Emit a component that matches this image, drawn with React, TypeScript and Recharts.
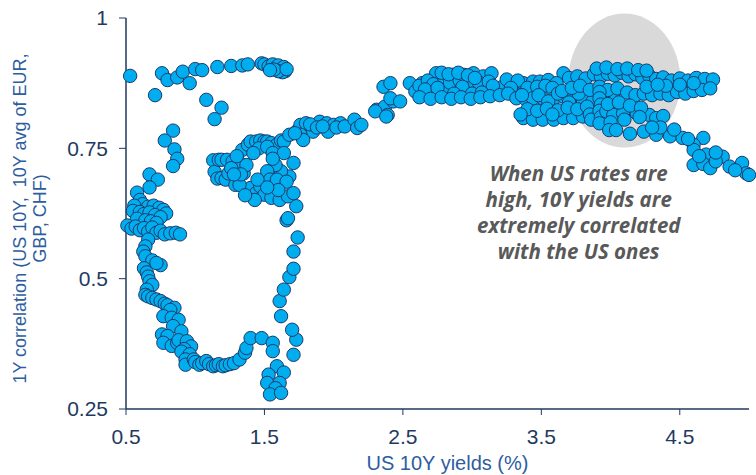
import React from 'react';
import { ScatterChart, Scatter, XAxis, YAxis, ReferenceDot } from 'recharts';

const xTicks = [0.5, 1.5, 2.5, 3.5, 4.5];
const yTicks = [0.25, 0.5, 0.75, 1];

// [US 10Y yield (%), 1Y correlation]
const topArc: [number, number][] = [
  [0.53, 0.889], [0.71, 0.852], [0.76, 0.894], [0.8, 0.881], [0.87, 0.886], [0.91, 0.897],
  [0.96, 0.875], [1.0, 0.902], [1.05, 0.9], [1.08, 0.843], [1.16, 0.906], [1.19, 0.828],
  [1.14, 0.806], [1.26, 0.908], [1.34, 0.909], [1.38, 0.911], [1.48, 0.913], [1.5, 0.911],
  [1.53, 0.907], [1.56, 0.911], [1.58, 0.904], [1.6, 0.909], [1.62, 0.902], [1.64, 0.906],
  [1.65, 0.898], [1.63, 0.896], [1.6, 0.898], [1.57, 0.901], [1.66, 0.902], [1.54, 0.9],
];

const leftDrop: [number, number][] = [
  [0.84, 0.784], [0.78, 0.765], [0.85, 0.748], [0.87, 0.73], [0.84, 0.716], [0.67, 0.7],
  [0.73, 0.69], [0.67, 0.675], [0.58, 0.665], [0.6, 0.651], [0.62, 0.643], [0.56, 0.64],
  [0.66, 0.638], [0.7, 0.64], [0.74, 0.636], [0.77, 0.632], [0.79, 0.625], [0.55, 0.63],
  [0.6, 0.628], [0.63, 0.624], [0.67, 0.627], [0.71, 0.622], [0.75, 0.618], [0.58, 0.615],
  [0.64, 0.612], [0.68, 0.61], [0.72, 0.607], [0.51, 0.602], [0.54, 0.596], [0.57, 0.6],
  [0.6, 0.593], [0.63, 0.597], [0.66, 0.59], [0.69, 0.598], [0.72, 0.588], [0.75, 0.592],
  [0.78, 0.585], [0.82, 0.587], [0.86, 0.588], [0.89, 0.585],
];

const leftBand: [number, number][] = [
  [0.66, 0.575], [0.64, 0.562], [0.625, 0.552], [0.64, 0.543], [0.69, 0.535], [0.75, 0.526],
  [0.72, 0.53], [0.63, 0.52], [0.65, 0.512], [0.66, 0.504], [0.67, 0.495], [0.69, 0.488],
  [0.65, 0.479], [0.64, 0.469], [0.66, 0.466], [0.69, 0.463], [0.72, 0.46], [0.75, 0.457],
  [0.78, 0.452], [0.8, 0.449], [0.85, 0.444], [0.82, 0.44], [0.77, 0.428], [0.83, 0.425],
  [0.88, 0.421], [0.84, 0.409], [0.9, 0.399], [0.76, 0.393], [0.8, 0.39], [0.77, 0.377],
  [0.83, 0.371], [0.87, 0.377], [0.88, 0.382], [0.94, 0.38], [0.97, 0.37], [0.92, 0.365],
  [0.9, 0.36], [0.96, 0.355], [0.93, 0.345], [0.93, 0.335], [0.99, 0.345], [1.0, 0.34],
  [1.03, 0.335], [1.05, 0.338], [1.08, 0.342], [1.1, 0.336], [1.13, 0.332], [1.15, 0.334],
  [1.17, 0.336], [1.2, 0.332], [1.22, 0.334], [1.25, 0.336], [1.28, 0.338], [1.32, 0.345],
  [1.36, 0.358], [1.37, 0.367], [1.4, 0.386], [1.48, 0.386], [1.56, 0.377], [1.56, 0.361],
  [1.59, 0.332], [1.64, 0.32], [1.53, 0.316], [1.52, 0.3], [1.61, 0.3], [1.58, 0.29],
  [1.54, 0.278], [1.62, 0.281],
];

const rightRise: [number, number][] = [
  [1.71, 0.354], [1.73, 0.383], [1.7, 0.402], [1.62, 0.428], [1.61, 0.457], [1.64, 0.479],
  [1.68, 0.503], [1.71, 0.519], [1.71, 0.552], [1.74, 0.579], [1.66, 0.612], [1.67, 0.616],
  [1.73, 0.639],
];

const loop: [number, number][] = [
  [1.13, 0.727], [1.14, 0.705], [1.16, 0.692], [1.17, 0.728], [1.19, 0.728], [1.23, 0.728],
  [1.27, 0.725], [1.32, 0.722], [1.19, 0.693], [1.22, 0.69], [1.24, 0.702], [1.3, 0.69],
  [1.29, 0.68], [1.35, 0.702], [1.37, 0.718], [1.34, 0.747], [1.38, 0.757], [1.4, 0.763],
  [1.44, 0.763], [1.47, 0.765], [1.5, 0.763], [1.52, 0.763], [1.55, 0.76], [1.59, 0.757],
  [1.62, 0.765], [1.64, 0.763], [1.46, 0.75], [1.52, 0.753], [1.42, 0.741], [1.56, 0.741],
  [1.64, 0.741], [1.71, 0.722], [1.68, 0.696], [1.62, 0.706], [1.58, 0.718], [1.52, 0.706],
  [1.54, 0.69], [1.59, 0.69], [1.66, 0.686], [1.4, 0.674], [1.44, 0.664], [1.47, 0.677],
  [1.5, 0.661], [1.55, 0.655], [1.61, 0.651], [1.67, 0.658], [1.71, 0.664], [1.32, 0.68],
  [1.43, 0.651], [1.36, 0.66], [1.26, 0.712], [1.3, 0.735], [1.33, 0.7], [1.45, 0.69],
  [1.6, 0.67], [1.52, 0.675], [1.56, 0.73], [1.28, 0.7],
];

const riseToPlateau: [number, number][] = [
  [1.68, 0.776], [1.73, 0.782], [1.76, 0.795], [1.8, 0.798], [1.85, 0.782], [1.9, 0.801],
  [1.95, 0.798], [2.0, 0.795], [2.05, 0.798], [1.96, 0.782], [1.76, 0.776], [1.78, 0.766],
  [1.72, 0.779], [1.83, 0.796], [1.88, 0.79], [1.92, 0.792], [2.02, 0.79], [2.08, 0.792],
  [2.15, 0.805], [2.17, 0.789], [2.2, 0.795], [2.31, 0.824], [2.37, 0.83], [2.39, 0.814],
  [2.43, 0.84], [2.3, 0.821], [2.36, 0.868], [2.41, 0.875], [2.41, 0.846], [2.48, 0.84],
  [2.38, 0.811],
];

const plateauLeft: [number, number][] = [
  [2.55, 0.875], [2.59, 0.859], [2.64, 0.875], [2.7, 0.859], [2.74, 0.894], [2.77, 0.878],
  [2.82, 0.862], [2.86, 0.891], [2.89, 0.862], [2.94, 0.891], [2.96, 0.862], [3.01, 0.894],
  [3.03, 0.862], [3.08, 0.888], [3.14, 0.894], [3.1, 0.862], [3.18, 0.862], [3.22, 0.868],
  [3.3, 0.872], [3.37, 0.875], [3.44, 0.878], [3.49, 0.878], [3.55, 0.881], [3.66, 0.894],
  [3.61, 0.875], [2.62, 0.87], [2.68, 0.88], [2.72, 0.873], [2.8, 0.885], [2.84, 0.876],
  [2.91, 0.88], [2.98, 0.878], [3.05, 0.876], [3.12, 0.878], [2.78, 0.895], [2.83, 0.892],
  [2.9, 0.895], [2.97, 0.89], [3.02, 0.885], [2.66, 0.863], [2.75, 0.866], [2.93, 0.868],
  [3.25, 0.882], [3.33, 0.88], [3.4, 0.866], [3.47, 0.868], [3.53, 0.87], [3.58, 0.866],
  [3.15, 0.87], [3.28, 0.866], [2.87, 0.855], [3.0, 0.855], [3.07, 0.857], [2.62, 0.848],
  [2.7, 0.845], [2.78, 0.848], [2.85, 0.845], [2.92, 0.848], [2.99, 0.845], [3.06, 0.848],
  [3.13, 0.85], [3.2, 0.852], [3.26, 0.855],
];

const plateauMid: [number, number][] = [
  [3.32, 0.846], [3.39, 0.843], [3.44, 0.846], [3.51, 0.846], [3.59, 0.846], [3.66, 0.849],
  [3.73, 0.846], [3.8, 0.843], [3.87, 0.84], [3.36, 0.852], [3.48, 0.852], [3.55, 0.84],
  [3.62, 0.855], [3.7, 0.838], [3.77, 0.855], [3.37, 0.808], [3.44, 0.805], [3.51, 0.805],
  [3.59, 0.805], [3.66, 0.808], [3.73, 0.808], [3.8, 0.811], [3.4, 0.825], [3.47, 0.822],
  [3.54, 0.826], [3.62, 0.823], [3.69, 0.828], [3.76, 0.825], [3.83, 0.83], [3.35, 0.815],
  [3.58, 0.815], [3.85, 0.815], [3.86, 0.805], [3.96, 0.845], [4.02, 0.848],
];

const plateauRight: [number, number][] = [
  [3.7, 0.885], [3.76, 0.888], [3.82, 0.884], [3.88, 0.892], [3.93, 0.888], [3.98, 0.893],
  [4.03, 0.89], [4.08, 0.895], [4.13, 0.888], [4.18, 0.892], [4.23, 0.885], [4.28, 0.889],
  [4.33, 0.883], [4.38, 0.886], [4.44, 0.88], [4.5, 0.884], [4.56, 0.88], [4.62, 0.885],
  [4.68, 0.883], [4.74, 0.882], [3.9, 0.903], [3.97, 0.905], [4.05, 0.902], [4.12, 0.903],
  [4.2, 0.9], [4.26, 0.899], [3.65, 0.86], [3.72, 0.866], [3.78, 0.87], [3.85, 0.862],
  [3.92, 0.868], [3.98, 0.862], [4.05, 0.865], [4.12, 0.857], [4.18, 0.852], [4.24, 0.855],
  [4.3, 0.852], [4.36, 0.855], [4.42, 0.852], [4.48, 0.858], [4.54, 0.855], [4.6, 0.86],
  [4.66, 0.862], [4.72, 0.865], [4.4, 0.87], [4.5, 0.872], [4.6, 0.875], [4.26, 0.868],
  [4.34, 0.872], [3.92, 0.858], [3.92, 0.846], [3.93, 0.834], [3.92, 0.822], [3.93, 0.81],
  [3.92, 0.798], [3.97, 0.821], [4.02, 0.814], [4.09, 0.817], [4.19, 0.817], [4.28, 0.814],
  [4.33, 0.808], [3.98, 0.835], [4.06, 0.838], [4.14, 0.832], [4.22, 0.828], [4.0, 0.8],
  [4.1, 0.805], [4.21, 0.81], [4.38, 0.812],
];

const rightTail: [number, number][] = [
  [3.99, 0.785], [4.04, 0.785], [4.14, 0.778], [4.24, 0.782], [4.33, 0.776], [4.36, 0.79],
  [4.43, 0.773], [4.52, 0.77], [4.67, 0.77], [4.6, 0.757], [4.6, 0.747], [4.69, 0.738],
  [4.81, 0.734], [4.6, 0.718], [4.67, 0.72], [4.72, 0.712], [4.76, 0.725], [4.86, 0.715],
  [4.95, 0.722], [4.98, 0.702], [5.0, 0.699], [4.9, 0.708], [4.3, 0.79], [4.46, 0.786],
  [4.56, 0.768], [4.64, 0.735], [4.76, 0.742],
];

const points = [
  ...topArc, ...leftDrop, ...leftBand, ...rightRise, ...loop,
  ...riseToPlateau, ...plateauLeft, ...plateauMid, ...plateauRight, ...rightTail,
].map(([x, y]) => ({ x, y }));

const highlight = [{ x: 4.1, y: 0.88 }];

const yTitle = ['1Y correlation (US 10Y,  10Y avg of EUR,', 'GBP, CHF)'];
const xTitle = 'US 10Y yields (%)';
const note = ['When US rates are', 'high, 10Y yields are', 'extremely correlated', 'with the US ones'];

const AXIS = '#1f3a5f';
const TITLE = '#2d5d9f';

const renderYTitle = ({ viewBox }: any) => {
  const x = viewBox.x + 26;
  const y = viewBox.y + viewBox.height / 2 + 5;
  return (
    <text
      transform={`rotate(-90, ${x}, ${y})`}
      x={x}
      y={y}
      textAnchor="middle"
      fill={TITLE}
      fontSize={18}
      style={{ whiteSpace: 'pre' }}
    >
      {yTitle.map((t, i) => (
        <tspan key={i} x={x} dy={i === 0 ? 0 : 20}>
          {t}
        </tspan>
      ))}
    </text>
  );
};

const renderXTitle = ({ viewBox }: any) => (
  <text x={viewBox.x + viewBox.width / 2 + 10} y={viewBox.y + 61} textAnchor="middle" fill={TITLE} fontSize={20}>
    {xTitle}
  </text>
);

const renderNote = ({ cx, cy }: any) => (
  <text
    x={cx}
    y={cy}
    textAnchor="middle"
    fill="#595959"
    fontSize={20.5}
    fontWeight={700}
    fontStyle="italic"
    fontFamily="'Open Sans', sans-serif"
  >
    {note.map((t, i) => (
      <tspan key={i} x={cx} dy={i === 0 ? 0 : 26}>
        {t}
      </tspan>
    ))}
  </text>
);

export default function App() {
  return (
    <div style={{ position: 'absolute', left: 0, top: 0, fontFamily: "'Liberation Sans', Arial, sans-serif" }}>
      <ScatterChart width={756} height={475} margin={{ top: 18, right: 7, bottom: 0, left: 0 }}>
        <XAxis
          type="number"
          dataKey="x"
          domain={[0.5, 5]}
          ticks={xTicks}
          height={66}
          tickSize={6}
          tickMargin={14}
          tick={{ fill: AXIS, fontSize: 21 }}
          tickLine={{ stroke: AXIS }}
          axisLine={{ stroke: AXIS, strokeWidth: 1.5 }}
          label={{ content: renderXTitle }}
        />
        <YAxis
          type="number"
          dataKey="y"
          domain={[0.25, 1]}
          ticks={yTicks}
          width={126}
          tickSize={7}
          tickMargin={11}
          tick={{ fill: AXIS, fontSize: 21 }}
          tickLine={{ stroke: AXIS }}
          axisLine={{ stroke: AXIS, strokeWidth: 1.5 }}
          label={{ content: renderYTitle }}
        />
        <Scatter
          data={highlight}
          isAnimationActive={false}
          shape={({ cx, cy }: any) => <ellipse cx={cx} cy={cy} rx={56} ry={67} fill="#d9d9d9" />}
        />
        <Scatter
          data={points}
          isAnimationActive={false}
          shape={({ cx, cy }: any) => (
            <circle cx={cx} cy={cy} r={6.7} fill="#00aeef" stroke="#1b3a6b" strokeWidth={1} />
          )}
        />
        <ReferenceDot x={3.77} y={0.688} r={0} shape={renderNote} />
      </ScatterChart>
    </div>
  );
}
